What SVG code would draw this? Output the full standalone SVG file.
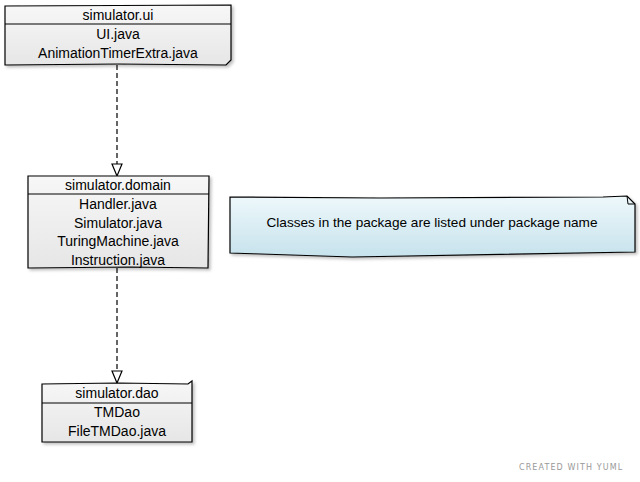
<svg xmlns="http://www.w3.org/2000/svg" width="640" height="482" viewBox="0 0 640 482">
<defs>
<linearGradient id="pkg" x1="0" y1="0" x2="0" y2="1"><stop offset="0" stop-color="#f7f7f7"/><stop offset="1" stop-color="#e6e6e6"/></linearGradient>
<linearGradient id="note" x1="0" y1="0" x2="0" y2="1"><stop offset="0" stop-color="#eef8fb"/><stop offset="1" stop-color="#c6e2ec"/></linearGradient>
<marker id="open" markerWidth="14" markerHeight="12" refX="13" refY="6" orient="auto" markerUnits="userSpaceOnUse" viewBox="0 0 14 12">
<path d="M1,1 L13,6 L1,11 Z" fill="#fff" stroke="#000" stroke-width="1.2"/>
</marker>
<filter id="sh" x="-5%" y="-5%" width="115%" height="130%"><feDropShadow dx="2" dy="2" stdDeviation="1.5" flood-color="#000" flood-opacity="0.25"/></filter>
</defs>
<style>
.box{fill:url(#pkg);stroke:#000;stroke-width:1.2;filter:url(#sh)}
.sep{stroke:#000;stroke-width:1.2;fill:none}
.t{font-family:"Liberation Sans",Arial,sans-serif;font-size:14px;fill:#000;text-anchor:middle}
.edge{stroke:#000;stroke-width:1.2;stroke-dasharray:5,3;fill:none}
.foot{font-family:"DejaVu Sans",sans-serif;font-size:8px;fill:#999;letter-spacing:1.1px}
</style>
<g id="connectors">
<path class="edge" d="M117,65 L117,176" marker-end="url(#open)"/>
<path class="edge" d="M117,268 L117,383" marker-end="url(#open)"/>
</g>
<g id="simulator-ui">
<path class="box" d="M5,6 L231,5 L231,60 L226,65 L118,64 L5,65 Z"/>
<path class="sep" d="M5,24 L231,24"/>
<text class="t" x="118" y="20">simulator.ui</text>
<text class="t" x="118" y="39">UI.java</text>
<text class="t" x="118" y="58">AnimationTimerExtra.java</text>
</g>
<g id="simulator-domain">
<path class="box" d="M28,176 L209,176 L208,268 L130,267 L28,268 Z"/>
<path class="sep" d="M28,194 L209,194"/>
<text class="t" x="118" y="190">simulator.domain</text>
<text class="t" x="118" y="209">Handler.java</text>
<text class="t" x="118" y="228">Simulator.java</text>
<text class="t" x="118" y="246">TuringMachine.java</text>
<text class="t" x="118" y="265">Instruction.java</text>
</g>
<g id="simulator-dao">
<path class="box" d="M42,384 L118,383 L188,384 L192,381 L192,442 L42,442 Z"/>
<path class="sep" d="M42,403 L192,403"/>
<text class="t" x="117" y="398">simulator.dao</text>
<text class="t" x="117" y="417">TMDao</text>
<text class="t" x="117" y="436">FileTMDao.java</text>
</g>
<g id="note">
<path d="M230,197 L380,198 L603,197 L627,196 L635,204 L635,252 L352,257 L230,253 Z" fill="url(#note)" stroke="#000" stroke-width="1.2" filter="url(#sh)"/>
<path d="M627,196 L628,204 L635,204" fill="none" stroke="#000" stroke-width="1"/>
<text x="432" y="227" font-family="Liberation Sans,Arial,sans-serif" font-size="13.6" text-anchor="middle" fill="#000">Classes in the package are listed under package name</text>
</g>
<text class="foot" x="519" y="470">CREATED WITH YUML</text>
</svg>
